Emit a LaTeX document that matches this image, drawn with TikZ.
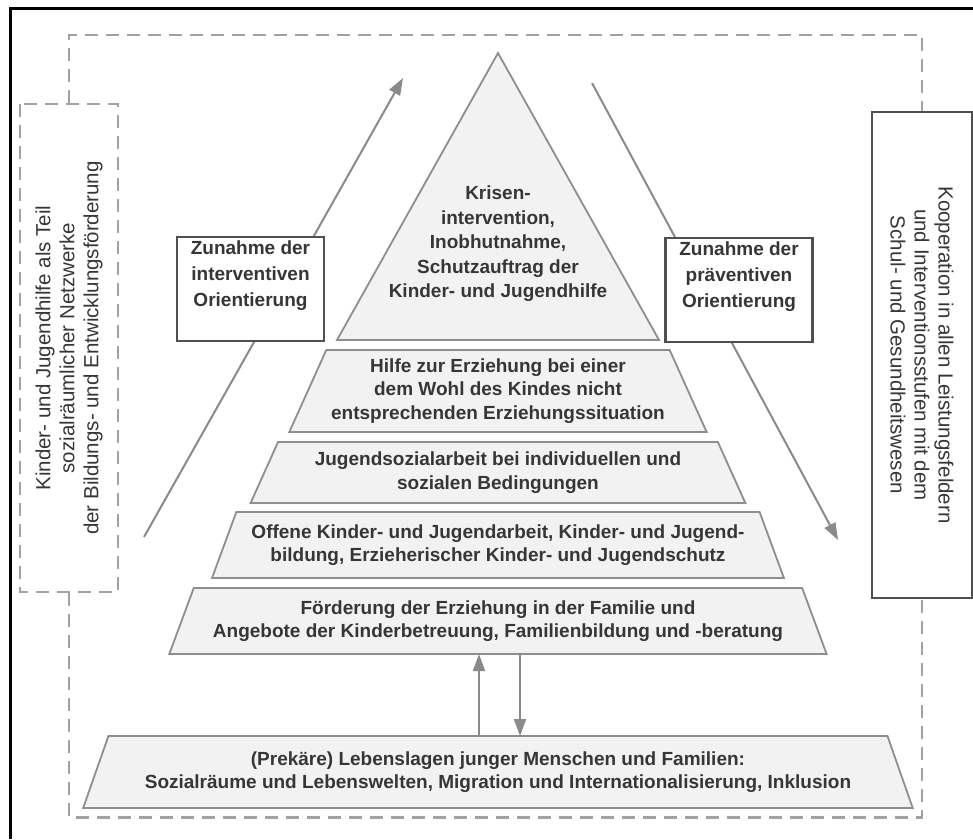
\documentclass[tikz,border=0pt]{standalone}
\usepackage{fontspec}
\setmainfont{Liberation Sans}
\usetikzlibrary{shapes.geometric, arrows.meta, positioning, calc}
\definecolor{textgray}{HTML}{363636}
\definecolor{linegray}{HTML}{8E8E8E}
\definecolor{fillgray}{HTML}{F2F2F2}
\definecolor{boxgray}{HTML}{505050}
\definecolor{dashgray}{HTML}{A2A2A2}
\definecolor{arrowgray}{HTML}{8A8A8A}
\newcommand{\pyrfont}{\fontsize{19}{23.5}\selectfont\bfseries}
\newcommand{\sidefont}{\fontsize{20.5}{24}\selectfont}
\tikzstyle{layer} = [trapezium, trapezium angle=61, trapezium stretches=true, draw=linegray, fill=fillgray, line width=1.8pt, inner sep=0pt, outer sep=0pt, align=center, text=textgray, font=\pyrfont]
\tikzstyle{orbox} = [rectangle, draw=boxgray, fill=white, line width=2.8pt, minimum width=147pt, minimum height=104pt, inner sep=0pt, align=center, text=textgray, font=\fontsize{19}{26}\selectfont\bfseries, text depth=30pt]
\tikzstyle{netzline} = [draw=dashgray, line width=2.5pt, dash pattern=on 13pt off 8pt]
\tikzstyle{sidebox} = [rectangle, align=center, text=textgray, font=\sidefont, inner sep=0pt]
\tikzstyle{arrow} = [draw=arrowgray, color=arrowgray, line width=2pt, -{Triangle[length=17pt, width=12pt]}]

\begin{document}
\begin{tikzpicture}[x=1pt, y=-1pt]
    \useasboundingbox (0,0) rectangle (973,839);
    \draw[line width=3pt] (973,8) -- (10,8) -- (10,839);

    % side boxes and network frame
    \node (netz) [sidebox, netzline, rotate=90, minimum width=488pt, minimum height=98pt] at (69,348) {Kinder- und Jugendhilfe als Teil\\sozialräumlicher Netzwerke\\der Bildungs- und Entwicklungsförderung};
    \node (koop) [sidebox, draw=boxgray, line width=2.8pt, rotate=-90, minimum width=486pt, minimum height=100pt] at (922,355) {Kooperation in allen Leistungsfeldern\\und Interventionsstufen mit dem\\Schul- und Gesundheitswesen};
    \draw[netzline] (netz.east) -- ++(0,-68) -| (koop.west);
    \draw[netzline] (netz.west) -- ++(0,224) -| (koop.east);

    % pyramid
    \coordinate (apex) at (498,53);
    \coordinate (kleft) at (337,340);
    \coordinate (kright) at (659,340);
    \coordinate (kbase) at (498,340);
    \draw[draw=linegray, fill=fillgray, line width=1.8pt] (apex) -- (kleft) -- (kright) -- cycle;
    \node (kris) [align=center, text=textgray, font=\fontsize{19}{24.5}\selectfont\bfseries] at (498,244) {Krisen-\\intervention,\\Inobhutnahme,\\Schutzauftrag der\\Kinder- und Jugendhilfe};
    \node (hilfe) [layer, minimum width=419pt, minimum height=82pt, below=10pt of kbase] {Hilfe zur Erziehung bei einer\\dem Wohl des Kindes nicht\\entsprechenden Erziehungssituation};
    \node (jugend) [layer, minimum width=498pt, minimum height=61pt, below=10pt of hilfe] {Jugendsozialarbeit bei individuellen und\\sozialen Bedingungen};
    \node (offen) [layer, minimum width=575pt, minimum height=66pt, below=9pt of jugend] {Offene Kinder- und Jugendarbeit, Kinder- und Jugend-\\bildung, Erzieherischer Kinder- und Jugendschutz};
    \node (foerd) [layer, minimum width=660pt, minimum height=66pt, below=10pt of offen] {Förderung der Erziehung in der Familie und\\Angebote der Kinderbetreuung, Familienbildung und -beratung};
    \node (lagen) [layer, minimum width=831pt, minimum height=72pt, below=82pt of foerd] {(Prekäre) Lebenslagen junger Menschen und Familien:\\Sozialräume und Lebenswelten, Migration und Internationalisierung, Inklusion};

    \draw[arrow] ([xshift=-19pt]lagen.north) -- ([xshift=-19pt]foerd.south);
    \draw[arrow] ([xshift=22pt]foerd.south) -- ([xshift=22pt]lagen.north);

    % orientation arrows
    \coordinate (istart) at (144,537);
    \coordinate (itip) at (403,78);
    \coordinate (pstart) at (592,83);
    \coordinate (ptip) at (838,540);
    \draw[arrow] (istart) -- (itip);
    \draw[arrow] (pstart) -- (ptip);
    \node (inter) [orbox] at (250.5,289) {Zunahme der\\interventiven\\Orientierung};
    \node (praev) [orbox] at (739,290) {Zunahme der\\präventiven\\Orientierung};
\end{tikzpicture}
\end{document}
